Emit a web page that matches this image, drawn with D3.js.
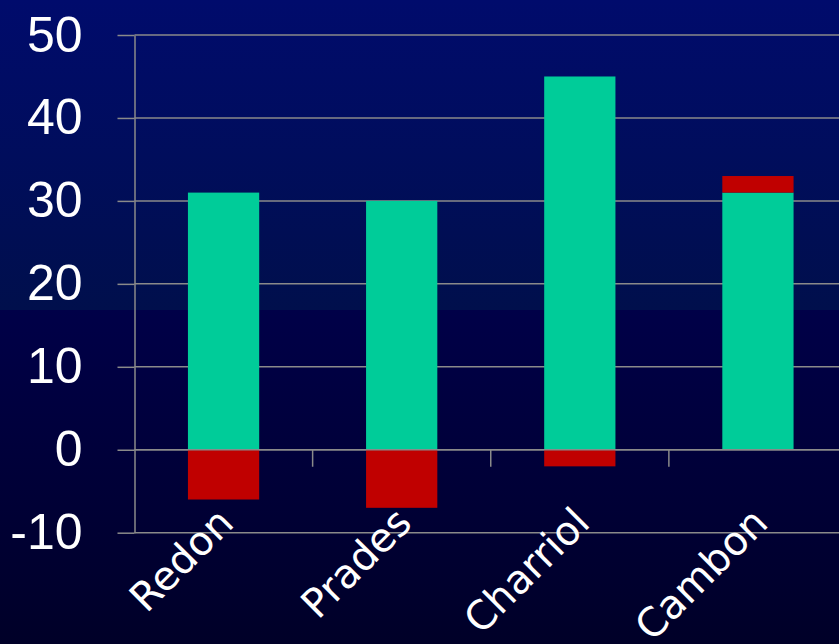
<!DOCTYPE html>
<html>
<head>
<meta charset="utf-8">
<script src="https://cdn.jsdelivr.net/npm/d3@7"></script>
<style>
body { margin: 0; background: #000030; overflow: hidden; }
</style>
</head>
<body>
<div id="chart"></div>
<script>
// stacked columns, gains above / losses below zero

var categories = ["Redon", "Prades", "Charriol", "Cambon"];
var greenVals = [31, 30, 45, 31];
var redVals = [-6, -7, -2, 2];
var yTicks = [-10, 0, 10, 20, 30, 40, 50];

var width = 839, height = 644;
var plotL = 134.5, plotR = 847, plotT = 35, plotB = 532.7;

var svg = d3.select("#chart").append("svg")
	.attr("width", width)
	.attr("height", height);

var defs = svg.append("defs");
var g1 = defs.append("linearGradient").attr("id", "bgTop")
	.attr("x1", 0).attr("y1", 0).attr("x2", 0).attr("y2", 1);
g1.append("stop").attr("offset", "0%").attr("stop-color", "#000b6c");
g1.append("stop").attr("offset", "100%").attr("stop-color", "#000f4c");
var g2 = defs.append("linearGradient").attr("id", "bgBot")
	.attr("x1", 0).attr("y1", 0).attr("x2", 0).attr("y2", 1);
g2.append("stop").attr("offset", "0%").attr("stop-color", "#000048");
g2.append("stop").attr("offset", "100%").attr("stop-color", "#000028");

svg.append("rect").attr("x", 0).attr("y", 0).attr("width", width).attr("height", 310)
	.attr("fill", "url(#bgTop)");
svg.append("rect").attr("x", 0).attr("y", 310).attr("width", width).attr("height", height - 310)
	.attr("fill", "url(#bgBot)");

var x = d3.scaleBand().domain(categories).range([plotL, plotR])
	.paddingInner(0.6).paddingOuter(0.3);
var y = d3.scaleLinear().domain([-10, 50]).range([plotB, plotT]);

var rows = categories.map(function(c, i) {
	return {cat: c, green: greenVals[i], red: redVals[i]};
});
var stack = d3.stack().keys(["green", "red"]).offset(d3.stackOffsetDiverging);
var series = stack(rows);
var colors = {green: "#00cc99", red: "#c00000"};

// grid lines
svg.append("g").selectAll("line").data(yTicks).enter().append("line")
	.attr("x1", plotL).attr("x2", plotR)
	.attr("y1", function(d){return y(d)})
	.attr("y2", function(d){return y(d)})
	.attr("stroke", "#8a8a8a").attr("stroke-width", 1.5);

// y axis
var yAxis = svg.append("g")
	.attr("transform", "translate(" + plotL + ",0)")
	.call(d3.axisLeft(y).tickValues(yTicks).tickFormat(function(d){return String(d)})
		.tickSize(17).tickSizeOuter(0).tickPadding(35));
yAxis.select(".domain").attr("stroke", "#8a8a8a").attr("stroke-width", 1.5);
yAxis.selectAll(".tick line").attr("stroke", "#8a8a8a").attr("stroke-width", 1.5);
yAxis.selectAll(".tick text")
	.attr("fill", "#ffffff")
	.style("font-family", "'Liberation Sans', Arial, sans-serif")
	.style("font-size", "50px");

// bars
svg.append("g").selectAll("g").data(series).enter().append("g")
	.attr("fill", function(s){return colors[s.key]})
	.selectAll("rect").data(function(s){return s}).enter().append("rect")
	.attr("x", function(d){return x(d.data.cat)})
	.attr("width", x.bandwidth())
	.attr("y", function(d){return y(d[1])})
	.attr("height", function(d){return y(d[0]) - y(d[1])});

// category axis at zero
var y0 = y(0);
svg.append("line").attr("x1", plotL).attr("x2", plotR).attr("y1", y0).attr("y2", y0)
	.attr("stroke", "#8a8a8a").attr("stroke-width", 1.5);
var bounds = categories.slice(0, -1).map(function(c){return x(c) + x.bandwidth() + (x.step() - x.bandwidth()) / 2;});
svg.append("g").selectAll("line").data(bounds).enter().append("line")
	.attr("x1", function(d){return d}).attr("x2", function(d){return d})
	.attr("y1", y0).attr("y2", y0 + 17)
	.attr("stroke", "#8a8a8a").attr("stroke-width", 1.5);

svg.append("g").selectAll("text").data(categories).enter().append("text")
	.attr("transform", function(d){return "translate(" + (x(d) + x.bandwidth() / 2 + 12) + ",525) rotate(-45)"})
	.attr("text-anchor", "end")
	.attr("fill", "#ffffff")
	.style("font-family", "'Comic Sans MS', 'DejaVu Sans', sans-serif")
	.style("font-size", "40px")
	.text(function(d){return d});
</script>
</body>
</html>
